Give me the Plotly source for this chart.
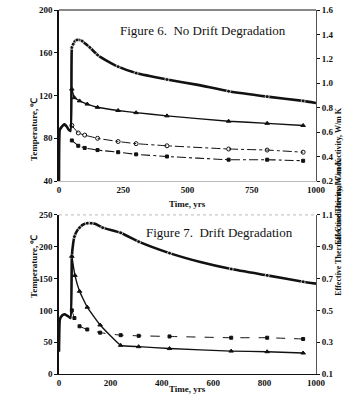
import plotly.graph_objects as go

# ---------------- Figure 6 data (No Drift Degradation) ----------------
f6_t_main = [0, 3, 8, 15, 22, 30, 38, 45, 50, 55, 62, 70, 80, 90, 100, 120, 150, 190, 230, 300, 420, 540, 660, 810, 950, 1000]
f6_main =   [40, 88, 90, 92, 93, 91, 88, 87, 165, 168, 171, 172, 172, 171, 169, 165, 158, 152, 147, 141, 135, 130, 124, 119, 115, 113]
f6_main_mark = [0, 0, 0, 0, 0, 0, 0, 0, 1, 1, 0, 1, 0, 1, 0, 1, 1, 0, 1, 1, 1, 0, 1, 1, 1, 0]

f6_t_b = [50, 60, 80, 110, 150, 230, 300, 420, 660, 810, 950]
f6_b =   [126, 118, 115, 112, 109, 106, 104, 101, 96, 94, 92]

f6_t_c = [50, 75, 100, 150, 230, 300, 420, 660, 810, 950]
f6_c =   [92, 85, 83, 80, 77, 75, 73, 70, 69, 67]

f6_t_d = [50, 75, 100, 150, 230, 300, 420, 660, 810, 950]
f6_d =   [78, 73, 71, 69, 67, 65, 63, 60, 60, 59]

# ---------------- Figure 7 data (Drift Degradation) ----------------
f7_t_main = [0, 3, 8, 15, 22, 30, 38, 45, 50, 55, 60, 70, 80, 95, 110, 125, 140, 170, 240, 310, 430, 550, 670, 810, 950, 1000]
f7_main =   [35, 85, 90, 93, 94, 92, 90, 88, 185, 205, 216, 225, 230, 235, 237, 237, 236, 230, 222, 208, 190, 176, 165, 155, 145, 142]
f7_main_mark = [0, 0, 0, 0, 0, 0, 0, 0, 1, 0, 1, 0, 1, 0, 1, 1, 0, 1, 1, 1, 1, 0, 1, 1, 1, 0]

f7_t_b = [50, 62, 80, 110, 160, 240, 310, 430, 670, 810, 950]
f7_b =   [185, 155, 130, 105, 77, 45, 43, 40, 36, 35, 33]

f7_t_c = [50, 60, 80, 110, 160, 240, 310, 430, 670, 810, 950]
f7_c =   [100, 88, 75, 70, 65, 61, 60, 59, 57, 57, 55]

# axis ticks
f6_xticks = [0, 250, 500, 750, 1000]
f6_yticks = [40, 80, 120, 160, 200]
f6_rticks = [0.2, 0.4, 0.6, 0.8, 1.0, 1.2, 1.4, 1.6]
f7_xticks = [0, 200, 400, 600, 800, 1000]
f7_yticks = [0, 50, 100, 150, 200, 250]
f7_rticks = [0.1, 0.3, 0.5, 0.7, 0.9, 1.1]

INK = "#111111"
SERIF = "Liberation Serif"

fig = go.Figure()

def main_curve(t, v, marks, xa, ya):
    fig.add_trace(go.Scatter(
        x=t, y=v, xaxis=xa, yaxis=ya, mode="lines+markers",
        line=dict(color=INK, width=2.6, shape="spline", smoothing=0.4),
        marker=dict(size=[4 if m else 0 for m in marks], color=INK, symbol="circle"),
        showlegend=False, hoverinfo="skip"))

def thin_curve(t, v, xa, ya, dash, symbol, width=1.3, size=4):
    fig.add_trace(go.Scatter(
        x=t, y=v, xaxis=xa, yaxis=ya, mode="lines+markers",
        line=dict(color=INK, width=width, dash=dash, shape="spline", smoothing=0.3),
        marker=dict(size=size, color=INK, symbol=symbol, line=dict(color=INK, width=1)),
        showlegend=False, hoverinfo="skip"))

# Figure 6
main_curve(f6_t_main, f6_main, f6_main_mark, "x", "y")
thin_curve(f6_t_b, f6_b, "x", "y", "solid", "triangle-up", 1.4, 4)
thin_curve(f6_t_c, f6_c, "x", "y", "dashdot", "circle-open", 1.0, 4)
thin_curve(f6_t_d, f6_d, "x", "y", "dashdot", "square", 1.1, 3)
# Figure 7
main_curve(f7_t_main, f7_main, f7_main_mark, "x2", "y2")
thin_curve(f7_t_b, f7_b, "x2", "y2", "solid", "triangle-up", 1.4, 4)
thin_curve(f7_t_c, f7_c, "x2", "y2", "dash", "square", 1.0, 3)

# dummy traces so the right axes are drawn
fig.add_trace(go.Scatter(x=[None], y=[None], xaxis="x", yaxis="y3", showlegend=False, hoverinfo="skip"))
fig.add_trace(go.Scatter(x=[None], y=[None], xaxis="x2", yaxis="y4", showlegend=False, hoverinfo="skip"))

tickfont = dict(family=SERIF, size=9, color=INK)

def xax(anchor, ticks, linecolor):
    return dict(domain=[0, 1], anchor=anchor, range=[0, 1000], tickvals=ticks,
                ticktext=["<b>%d</b>" % t for t in ticks], showgrid=False, zeroline=False,
                showline=True, linecolor=linecolor, linewidth=1, mirror=False,
                ticks="", tickfont=tickfont, automargin=False)

def yax(anchor, dom, rng, ticks):
    return dict(domain=dom, anchor=anchor, range=rng, tickvals=ticks,
                ticktext=["<b>%s</b>" % t for t in ticks], showgrid=False, zeroline=False,
                showline=True, linecolor=INK, linewidth=1.5, ticks="outside", ticklen=3,
                tickcolor=INK, tickfont=tickfont, automargin=False)

def rax(overlay, anchor, rng, ticks):
    return dict(overlaying=overlay, anchor=anchor, side="right", range=rng, tickvals=ticks,
                ticktext=["<b>%.1f</b>" % t for t in ticks], showgrid=False, zeroline=False,
                showline=True, linecolor="#555555", linewidth=1, ticks="outside", ticklen=3,
                tickcolor=INK, tickfont=tickfont, automargin=False)

fig.update_layout(
    width=348, height=405,
    margin=dict(l=59, r=32, t=10, b=31),
    paper_bgcolor="white", plot_bgcolor="white",
    showlegend=False,
    xaxis=xax("y", f6_xticks, "#bbbbbb"),
    yaxis=yax("x", [0.530, 1.0], [40, 200], f6_yticks),
    yaxis3=rax("y", "x", [0.2, 1.6], f6_rticks),
    xaxis2=xax("y2", f7_xticks, INK),
    yaxis2=yax("x2", [0.0, 0.437], [0, 250], f7_yticks),
    yaxis4=rax("y2", "x2", [0.1, 1.1], f7_rticks),
)

# top border of plot boxes
fig.add_shape(type="line", xref="x domain", yref="y domain", x0=0, x1=1, y0=1, y1=1,
              line=dict(color=INK, width=1))
fig.add_shape(type="line", xref="x2 domain", yref="y2 domain", x0=0, x1=1, y0=1, y1=1,
              line=dict(color="#bbbbbb", width=1, dash="dot"))

ann = []
ann.append(dict(text="Figure 6.  No Drift Degradation", x=560, y=181, xref="x", yref="y",
                showarrow=False, font=dict(family=SERIF, size=13, color=INK)))
ann.append(dict(text="Figure 7.  Drift Degradation", x=626, y=223, xref="x2", yref="y2",
                showarrow=False, font=dict(family=SERIF, size=13, color=INK)))
axfont = dict(family=SERIF, size=9, color=INK)
ann.append(dict(text="<b>Time, yrs</b>", x=187, y=204, xref="paper", yref="paper",
                showarrow=False, font=axfont))
ann.append(dict(text="<b>Time, yrs</b>", x=187, y=396, xref="paper", yref="paper",
                showarrow=False, font=axfont))
ann.append(dict(text="<b>Temperature, \u2103</b>", x=27, y=95, showarrow=False,
                textangle=-90, font=axfont))
ann.append(dict(text="<b>Temperature, \u2103</b>", x=27, y=300, showarrow=False,
                textangle=-90, font=axfont))
ann.append(dict(text="<b>Effective Thermal Conductivity, W/m K</b>", x=344.3, y=105,
                showarrow=False, textangle=-90, font=dict(family=SERIF, size=8, color=INK)))
ann.append(dict(text="<b>Effective Thermal Conductivity, W/m K</b>", x=344.3, y=298,
                showarrow=False, textangle=-90, font=dict(family=SERIF, size=8, color=INK)))

# convert pixel-positioned annotations to paper coordinates
W, H, L, R, T, B = 348, 405, 59, 32, 10, 31
pw, ph = W - L - R, H - T - B
for a in ann:
    if a.get("xref", "paper") == "paper":
        a["xref"] = "paper"; a["yref"] = "paper"
        a["x"] = (a["x"] - L) / pw
        a["y"] = (H - B - a["y"]) / ph
    fig.add_annotation(**a)

fig.write_html("out.html", config={"displayModeBar": False},
               post_script="document.body.style.margin='0';document.body.style.overflow='hidden';")
